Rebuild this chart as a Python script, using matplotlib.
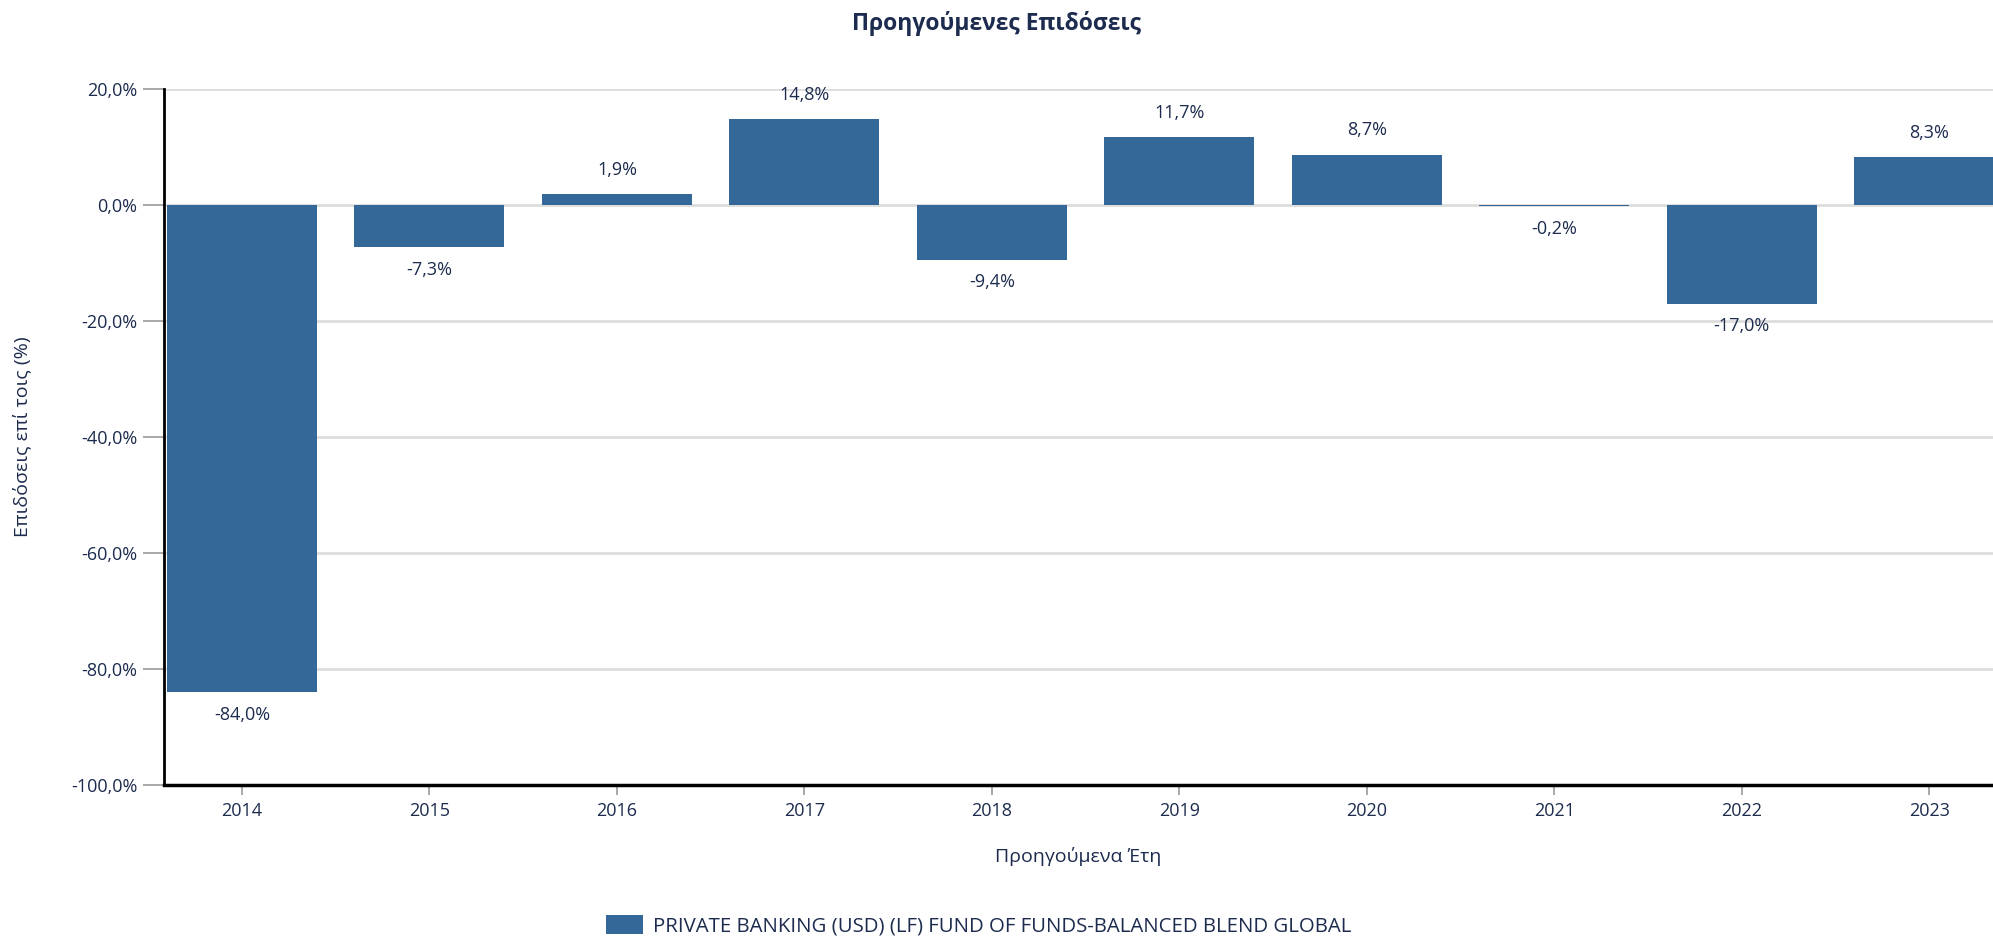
import matplotlib
matplotlib.use("Agg")
import matplotlib.pyplot as plt
import numpy as np

# dados do grafico
years = ["2014", "2015", "2016", "2017", "2018", "2019", "2020", "2021", "2022", "2023"]
returns = [-84.0, -7.3, 1.9, 14.8, -9.4, 11.7, 8.7, -0.2, -17.0, 8.3]
yticks = [20, 0, -20, -40, -60, -80, -100]
fund_name = "PRIVATE BANKING (USD) (LF) FUND OF FUNDS-BALANCED BLEND GLOBAL"

navy = "#1c2b4e"
bar_color = "#336899"

plt.rcParams['font.family'] = ['Open Sans', 'Noto Sans', 'DejaVu Sans']

fig = plt.figure(figsize=(19.93, 9.36), dpi=100)
ax = fig.add_axes([164/1993, 1 - 785/936, 1 - 164/1993, (785 - 89)/936])

x = np.arange(len(years))
bars = ax.bar(x, returns, width=0.8, color=bar_color, zorder=3, label=fund_name)

# rotulos dos valores
for xi, v in zip(x, returns):
    label = f"{v:.1f}%".replace(".", ",")
    if v >= 0:
        ax.annotate(label, (xi, v), xytext=(0, 11), textcoords="offset points",
                    ha="center", va="bottom", fontsize=13, color=navy)
    else:
        ax.annotate(label, (xi, v), xytext=(0, -10), textcoords="offset points",
                    ha="center", va="top", fontsize=13, color=navy)

ax.set_xlim(-0.416, 9.34)
ax.set_ylim(-100, 20)
ax.set_yticks(yticks)
ax.set_yticklabels([f"{t:.1f}%".replace(".", ",") for t in yticks], fontsize=13, color=navy)
ax.set_xticks(x)
ax.set_xticklabels(years, fontsize=13, color=navy)
ax.tick_params(axis="y", length=15, color="#999999", width=1.2, pad=4)
ax.tick_params(axis="x", length=7, color="#999999", width=1.2, pad=5)

ax.grid(axis="y", color="#dddddd", linewidth=2, zorder=0)
ax.spines["top"].set_visible(False)
ax.spines["right"].set_visible(False)
ax.spines["left"].set_linewidth(2)
ax.spines["bottom"].set_linewidth(2.5)
ax.spines["left"].set_color("black")
ax.spines["bottom"].set_color("black")

ax.set_xlabel("Προηγούμενα Έτη", fontsize=14, color=navy, labelpad=20)
fig.text(22/1993, 1 - 437/936, "Επιδόσεις επί τοις (%)", rotation=90,
         ha="center", va="center", fontsize=14, color=navy)
fig.text(0.5, 1 - 24/936, "Προηγούμενες Επιδόσεις", ha="center", va="center",
         fontsize=16.5, fontweight="bold", color=navy)

fig.legend(handles=[bars], labels=[fund_name], loc="center left",
           bbox_to_anchor=(588/1993, 1 - 926/936), frameon=False,
           fontsize=14.7, labelcolor=navy, handlelength=1.8, handleheight=1.0,
           handletextpad=0.5)

fig.savefig("out.png", dpi=100)
